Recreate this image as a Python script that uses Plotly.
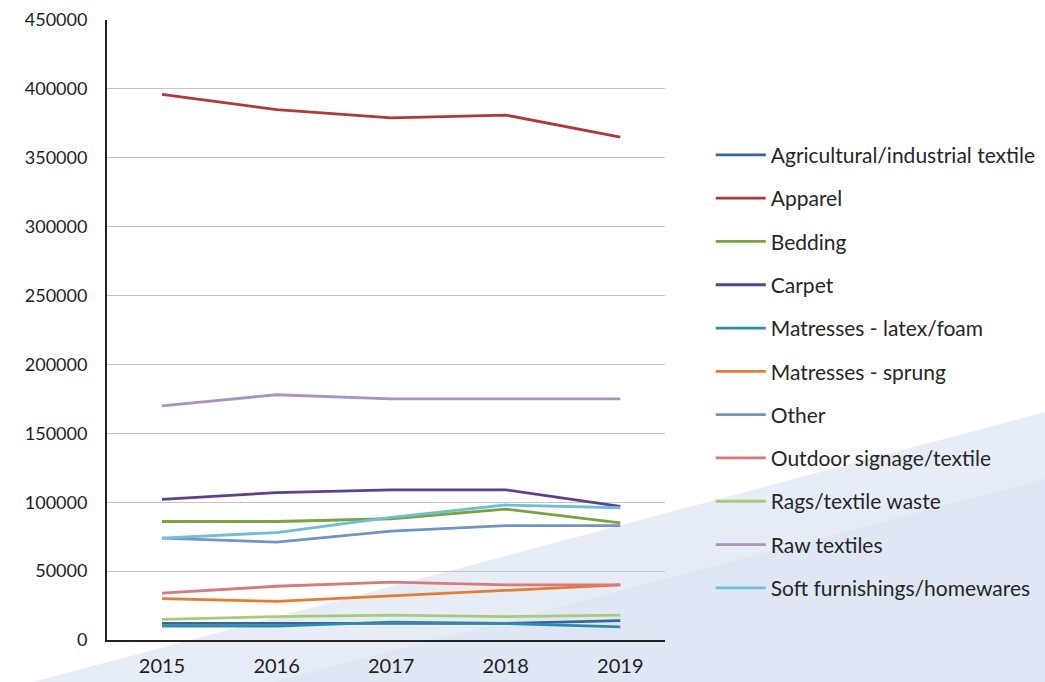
import plotly.graph_objects as go

# Textile waste by category, tonnes per year
years = ["2015", "2016", "2017", "2018", "2019"]

agricultural_industrial = [12000, 12000, 12000, 12000, 14000]
apparel = [396000, 385000, 379000, 381000, 365000]
bedding = [86000, 86000, 88000, 95000, 85000]
carpet = [102000, 107000, 109000, 109000, 97000]
matresses_latex_foam = [10000, 10000, 13000, 12000, 9500]
matresses_sprung = [30000, 28000, 32000, 36000, 40000]
other = [74000, 71000, 79000, 83000, 83000]
outdoor_signage = [34000, 39000, 42000, 40000, 40000]
rags_textile_waste = [15000, 17000, 18000, 17000, 18000]
raw_textiles = [170000, 178000, 175000, 175000, 175000]
soft_furnishings = [74000, 78000, 89000, 98000, 96000]

series = [
    ("Agricultural/industrial textile", agricultural_industrial, "#3466a5"),
    ("Apparel", apparel, "#b53636"),
    ("Bedding", bedding, "#79a43c"),
    ("Carpet", carpet, "#5e3f8e"),
    ("Matresses - latex/foam", matresses_latex_foam, "#2a8eaa"),
    ("Matresses - sprung", matresses_sprung, "#ec7a2e"),
    ("Other", other, "#6f93cc"),
    ("Outdoor signage/textile", outdoor_signage, "#dc7878"),
    ("Rags/textile waste", rags_textile_waste, "#aacb72"),
    ("Raw textiles", raw_textiles, "#a892c8"),
    ("Soft furnishings/homewares", soft_furnishings, "#6cbfd8"),
]

y_ticks = list(range(0, 450001, 50000))

fig = go.Figure()
for i, (name, values, color) in enumerate(series):
    fig.add_trace(go.Scatter(
        x=years, y=values, name=name, mode="lines",
        line=dict(color=color, width=2.8),
        legendgroup=f"g{i}",
    ))

# Pale blue slide backdrop sweeping up from the lower left
fig.add_shape(
    type="path", xref="paper", yref="paper", layer="below",
    path="M -0.1326 -0.0677 L 1.681 0.3677 L 1.681 -0.0677 Z",
    fillcolor="rgba(200,214,236,0.45)", line=dict(width=0),
)
fig.add_shape(
    type="path", xref="paper", yref="paper", layer="below",
    path="M 0.30 -0.0677 L 1.681 0.26 L 1.681 -0.0677 Z",
    fillcolor="rgba(190,206,232,0.18)", line=dict(width=0),
)

font_family = "Lato, Carlito, 'Liberation Sans', sans-serif"

fig.update_layout(
    width=1045, height=682,
    margin=dict(l=107, r=380, t=20, b=42, autoexpand=False),
    paper_bgcolor="white",
    plot_bgcolor="rgba(0,0,0,0)",
    font=dict(family=font_family, size=17, color="#333333"),
    showlegend=True,
    legend=dict(
        x=1.082, y=0.815, xanchor="left", yanchor="top",
        bgcolor="rgba(0,0,0,0)",
        font=dict(family=font_family, size=21, color="#262626"),
        tracegroupgap=13,
        itemwidth=50,
    ),
    xaxis=dict(
        type="category",
        range=[-0.48, 4.39],
        showgrid=False,
        showline=True, linecolor="#222222", linewidth=2,
        ticks="", tickfont=dict(size=20, color="#1e1e1e"),
        ticklabelstandoff=7,
        automargin=False,
        fixedrange=True,
    ),
    yaxis=dict(
        range=[0, 450000],
        tickvals=y_ticks,
        ticktext=[str(v) for v in y_ticks],
        showgrid=True, gridcolor="#c4c4c4", gridwidth=1.3,
        showline=True, linecolor="#222222", linewidth=2,
        zeroline=False,
        ticks="", tickfont=dict(size=18, color="#1e1e1e"),
        ticklabelstandoff=14,
        automargin=False,
    ),
)

fig.write_html("out.html")
